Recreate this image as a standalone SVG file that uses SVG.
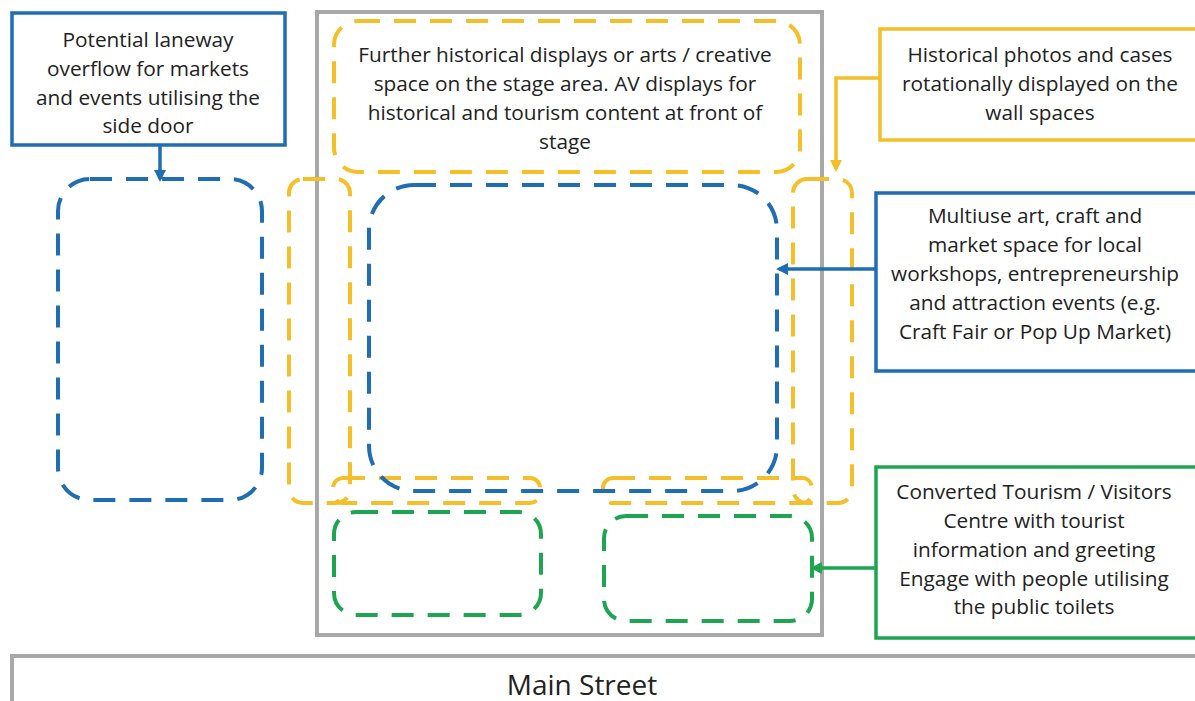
<svg xmlns="http://www.w3.org/2000/svg" width="1195" height="701" viewBox="0 0 1195 701">
<defs>
<style>
.t{font-family:"Open Sans","Liberation Sans",sans-serif;font-size:20.8px;fill:#222;text-anchor:middle}
.box{fill:#fff;stroke-width:3.5}
.dash{fill:none;stroke-width:4;stroke-dasharray:22 14}
.y{stroke:#f4bf29}
.b{stroke:#1f6db2}
.g{stroke:#1ea552}
.wall{fill:none;stroke:#a8a8a8;stroke-width:4}
.con{fill:none;stroke-width:3.5}
</style>
<marker id="ab" markerWidth="12" markerHeight="12" refX="9" refY="6" orient="auto" markerUnits="userSpaceOnUse" viewBox="0 0 12 12"><path d="M0,0 L12,6 L0,12 z" fill="#1f6db2"/></marker>
<marker id="ay" markerWidth="12" markerHeight="12" refX="9" refY="6" orient="auto" markerUnits="userSpaceOnUse" viewBox="0 0 12 12"><path d="M0,0 L12,6 L0,12 z" fill="#f4bf29"/></marker>
<marker id="ag" markerWidth="12" markerHeight="12" refX="9" refY="6" orient="auto" markerUnits="userSpaceOnUse" viewBox="0 0 12 12"><path d="M0,0 L12,6 L0,12 z" fill="#1ea552"/></marker>
</defs>
<rect width="1195" height="701" fill="#fff"/>

<g id="building">
<rect class="wall" x="317" y="12" width="505" height="623"/>
</g>

<g id="main-street">
<rect class="wall" x="12" y="656" width="1200" height="60"/>
<text class="t" x="582" y="695" style="font-size:28px">Main Street</text>
</g>

<g id="zone-left-wall"><rect class="dash y" x="289" y="179" width="61" height="324" rx="14"/></g>
<g id="zone-right-wall"><rect class="dash y" x="793" y="179" width="59" height="324" rx="14"/></g>
<g id="zone-front-left"><rect class="dash y" x="333" y="478" width="207" height="25" rx="10"/></g>
<g id="zone-front-right"><rect class="dash y" x="603" y="478" width="209" height="25" rx="10"/></g>

<g id="zone-stage">
<rect class="dash y" x="334" y="21" width="466" height="151" rx="24"/>
<text class="t" x="565" y="62">Further historical displays or arts / creative</text>
<text class="t" x="565" y="91">space on the stage area. AV displays for</text>
<text class="t" x="565" y="120">historical and tourism content at front of</text>
<text class="t" x="565" y="149">stage</text>
</g>

<g id="zone-laneway"><rect class="dash b" x="58" y="179" width="204" height="321" rx="32"/></g>
<g id="zone-multiuse"><rect class="dash b" x="369" y="185" width="408" height="306" rx="45"/></g>
<g id="zone-visitor-left"><rect class="dash g" x="334" y="512" width="207" height="103" rx="22"/></g>
<g id="zone-visitor-right"><rect class="dash g" x="604" y="516" width="208" height="105" rx="22"/></g>

<g id="note-laneway">
<rect class="box b" x="12" y="13" width="273" height="132"/>
<text class="t" x="148" y="47">Potential laneway</text>
<text class="t" x="148" y="76">overflow for markets</text>
<text class="t" x="148" y="105">and events utilising the</text>
<text class="t" x="148" y="133">side door</text>
</g>

<g id="note-walls">
<rect class="box y" x="880" y="29" width="330" height="111"/>
<text class="t" x="1040" y="62">Historical photos and cases</text>
<text class="t" x="1040" y="91">rotationally displayed on the</text>
<text class="t" x="1040" y="120">wall spaces</text>
</g>

<g id="note-multiuse">
<rect class="box b" x="876" y="193" width="330" height="178"/>
<text class="t" x="1035" y="223">Multiuse art, craft and</text>
<text class="t" x="1035" y="252">market space for local</text>
<text class="t" x="1035" y="281">workshops, entrepreneurship</text>
<text class="t" x="1035" y="310">and attraction events (e.g.</text>
<text class="t" x="1035" y="339">Craft Fair or Pop Up Market)</text>
</g>

<g id="note-visitor">
<rect class="box g" x="876" y="467" width="330" height="171"/>
<text class="t" x="1034" y="499">Converted Tourism / Visitors</text>
<text class="t" x="1034" y="528">Centre with tourist</text>
<text class="t" x="1034" y="557">information and greeting</text>
<text class="t" x="1034" y="586">Engage with people utilising</text>
<text class="t" x="1034" y="614">the public toilets</text>
</g>

<g id="connectors">
<path class="con b" d="M160,145 V179" marker-end="url(#ab)"/>
<path class="con y" d="M880,78 H836 V169" marker-end="url(#ay)"/>
<path class="con b" d="M876,269 H779" marker-end="url(#ab)"/>
<path class="con g" d="M876,568 H813" marker-end="url(#ag)"/>
</g>
</svg>
